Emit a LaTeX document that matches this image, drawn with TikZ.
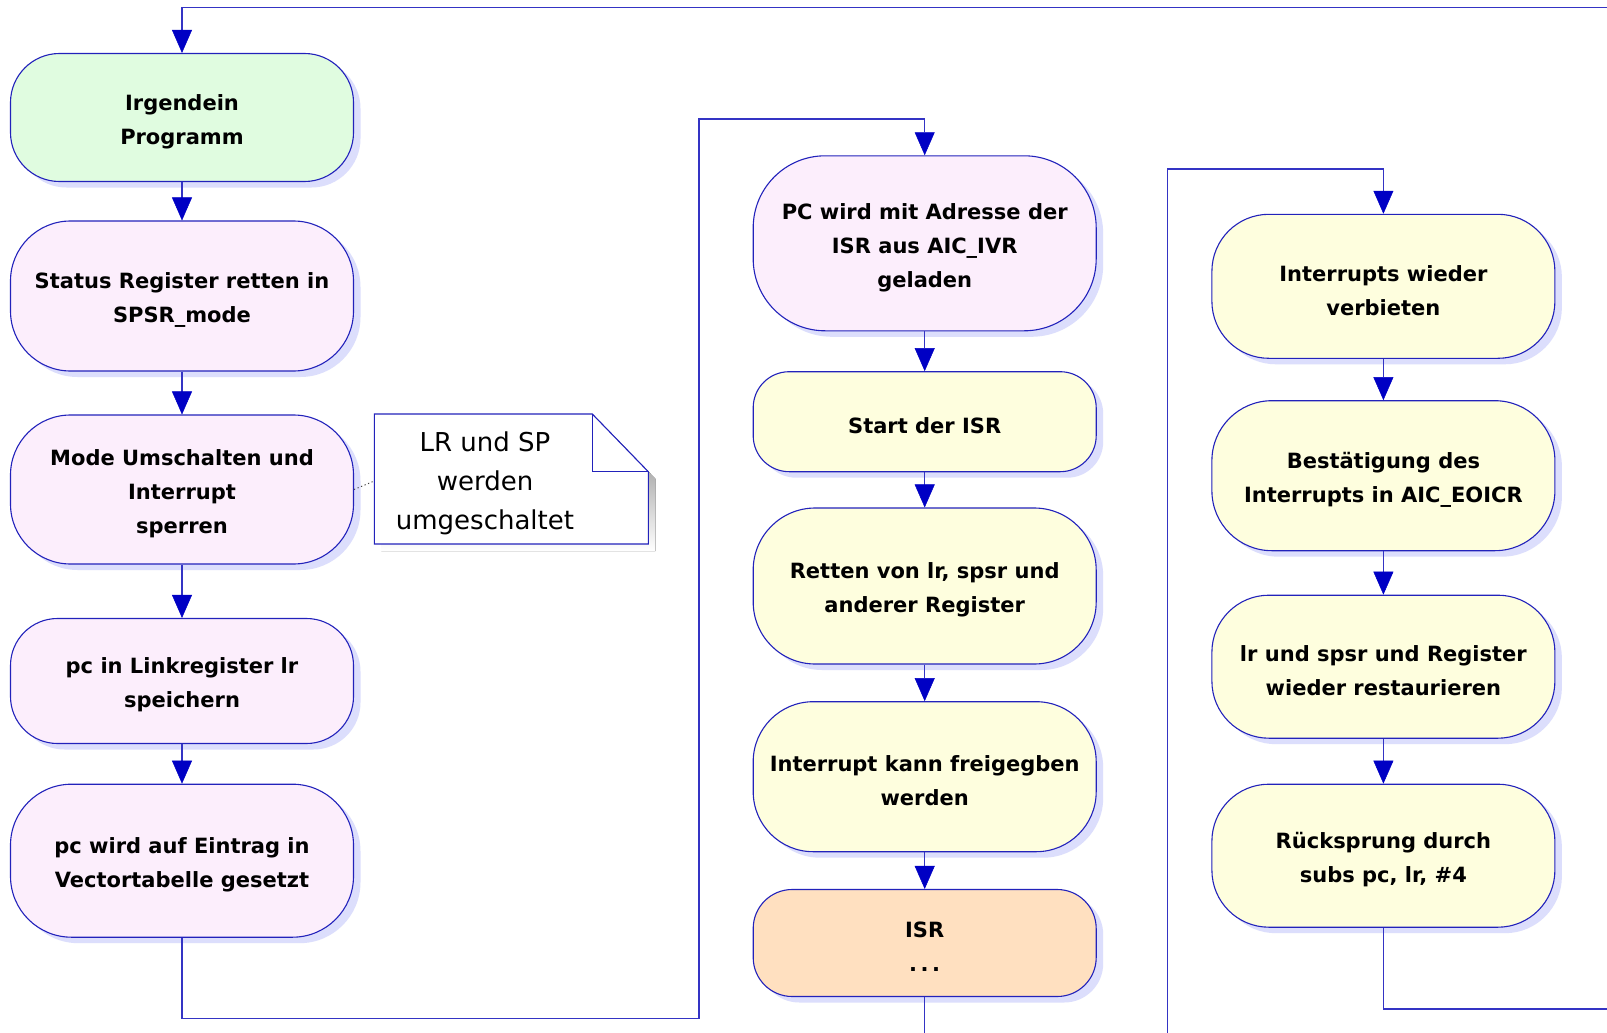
\documentclass[tikz,border=0pt]{standalone}
\usepackage{fontspec}
\setmainfont{DejaVu Sans}
\usetikzlibrary{arrows.meta,shadows}

\definecolor{boxline}{HTML}{2222BB}
\definecolor{wireblue}{HTML}{3434C4}
\definecolor{tipblue}{HTML}{0000C4}
\definecolor{shade}{HTML}{DCDEFC}
\definecolor{fillgreen}{HTML}{E0FCE0}
\definecolor{fillpink}{HTML}{FCEEFC}
\definecolor{fillyellow}{HTML}{FEFEDE}
\definecolor{fillorange}{HTML}{FFE0C0}

\begin{document}
\begin{tikzpicture}[x=1pt,y=-1pt,
  stepbox/.style={draw=boxline, line width=1.1pt, rectangle, minimum width=343pt,
    inner sep=0pt,
    drop shadow={shadow xshift=7pt, shadow yshift=-6pt, fill=shade, opacity=1}},
  boxtext/.style={align=center, inner sep=0pt, yshift=-4pt,
    font=\fontsize{21}{34}\selectfont\bfseries},
  flow/.style={draw=wireblue, line width=1.3pt,
    -{Triangle[width=20pt,length=23pt,fill=tipblue,color=tipblue,line width=0.5pt]}},
  plainwire/.style={draw=wireblue, line width=1.3pt},
  memo/.style={align=center, inner sep=0pt, font=\fontsize{26}{39}\selectfont}]

\fill[white] (0,0) rectangle (1607,1033);
\useasboundingbox (0,0) rectangle (1607,1033);

% left column: entering the exception
\node[stepbox, fill=fillgreen,  minimum height=128pt, rounded corners=49pt,
  label={[boxtext, name=At]center:Irgendein\\Programm}] (A) at (182,117.5) {};
\node[stepbox, fill=fillpink,   minimum height=150pt, rounded corners=60pt,
  label={[boxtext, name=Bt]center:Status Register retten in\\SPSR\_mode}] (B) at (182,296) {};
\node[stepbox, fill=fillpink,   minimum height=149pt, rounded corners=60pt,
  label={[boxtext, name=Ct]center:Mode Umschalten und\\Interrupt\\sperren}] (C) at (182,489.5) {};
\node[stepbox, fill=fillpink,   minimum height=125pt, rounded corners=47pt,
  label={[boxtext, name=Dt]center:pc in Linkregister lr\\speichern}] (D) at (182,681) {};
\node[stepbox, fill=fillpink,   minimum height=153pt, rounded corners=61pt,
  label={[boxtext, name=Et]center:pc wird auf Eintrag in\\Vectortabelle gesetzt}] (E) at (182,860.7) {};

% middle column: interrupt service routine
\node[stepbox, fill=fillpink,   minimum height=175pt, rounded corners=72pt,
  label={[boxtext, name=Ft]center:PC wird mit Adresse der\\ISR aus AIC\_IVR\\geladen}] (F) at (924.7,243.3) {};
\node[stepbox, fill=fillyellow, minimum height=100pt, rounded corners=36pt,
  label={[boxtext, name=Gt]center:Start der ISR}] (G) at (924.7,421.7) {};
\node[stepbox, fill=fillyellow, minimum height=156pt, rounded corners=62pt,
  label={[boxtext, name=Ht]center:Retten von lr, spsr und\\anderer Register}] (H) at (924.7,586) {};
\node[stepbox, fill=fillyellow, minimum height=150pt, rounded corners=60pt,
  label={[boxtext, name=It]center:Interrupt kann freigegben\\werden}] (I) at (924.7,776.7) {};
\node[stepbox, fill=fillorange, minimum height=107pt, rounded corners=39pt,
  label={[boxtext, name=Jt]center:ISR\\.\,.\,.}] (J) at (924.7,943) {};

% right column: leaving the ISR
\node[stepbox, fill=fillyellow, minimum height=144pt, rounded corners=57pt,
  label={[boxtext, name=Kt]center:Interrupts wieder\\verbieten}] (K) at (1383.4,286.3) {};
\node[stepbox, fill=fillyellow, minimum height=150pt, rounded corners=60pt,
  label={[boxtext, name=Lt]center:Bestätigung des\\Interrupts in AIC\_EOICR}] (L) at (1383.4,475.7) {};
\node[stepbox, fill=fillyellow, minimum height=143pt, rounded corners=57pt,
  label={[boxtext, name=Mt]center:lr und spsr und Register\\wieder restaurieren}] (M) at (1383.4,666.7) {};
\node[stepbox, fill=fillyellow, minimum height=143pt, rounded corners=57pt,
  label={[boxtext, name=Nt]center:Rücksprung durch\\subs pc, lr, \#4}] (N) at (1383.4,855.7) {};

% note with folded corner
\fill[shade] (381.3,421) -- (599.3,421) -- (655.3,478.7) -- (655.3,551) -- (381.3,551) -- cycle;
\filldraw[fill=white, draw=boxline, line width=1.1pt]
  (374.3,414) -- (592.3,414) -- (648.3,471.7) -- (648.3,544) -- (374.3,544) -- cycle;
\draw[boxline, line width=1.1pt] (592.3,414) -- (592.3,471.7) -- (648.3,471.7);
\node[memo] (note) at (485,483.5) {LR und SP\\werden\\umgeschaltet};
\coordinate (notein) at (374.3,481);
\draw[black!75, line width=0.9pt, dash pattern=on 1.2pt off 2.6pt] (C.east) -- (notein);

% connectors
\coordinate (topin) at (1607,7.2);
\draw[flow] (topin) -| (A.north);
\draw[flow] (A) -- (B);
\draw[flow] (B) -- (C);
\draw[flow] (C) -- (D);
\draw[flow] (D) -- (E);

\coordinate (e1) at (699,1018.7);
\coordinate (e2) at (699,118.9);
\draw[flow] (E.south) |- (e1) -- (e2) -| (F.north);
\draw[flow] (F) -- (G);
\draw[flow] (G) -- (H);
\draw[flow] (H) -- (I);
\draw[flow] (I) -- (J);
\coordinate (jout) at (924.7,1033);
\draw[plainwire] (J.south) -- (jout);

\coordinate (kin) at (1167.4,1033);
\coordinate (kturn) at (1167.4,169);
\draw[flow] (kin) -- (kturn) -| (K.north);
\draw[flow] (K) -- (L);
\draw[flow] (L) -- (M);
\draw[flow] (M) -- (N);
\coordinate (nout) at (1607,1009);
\draw[plainwire] (N.south) |- (nout);

\end{tikzpicture}
\end{document}
